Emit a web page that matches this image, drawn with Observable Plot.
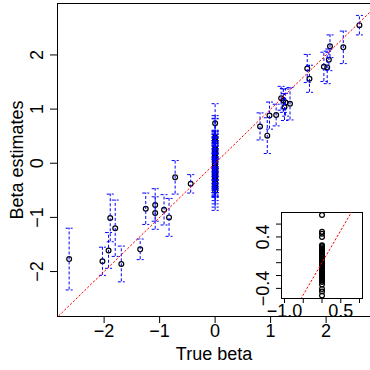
<!DOCTYPE html>
<html><head><meta charset="utf-8">
<script src="https://cdn.jsdelivr.net/npm/d3@7"></script>
<script src="https://cdn.jsdelivr.net/npm/@observablehq/plot@0.6"></script>
<style>
body{margin:0;background:#fff}
#wrap{position:relative;width:370px;height:370px;overflow:hidden}
#wrap svg{position:absolute}
</style>
</head><body><div id="wrap"></div>
<script>
// ---- data ----
const truthNonZero = [-2.63,-2.03,-1.92,-1.89,-1.80,-1.69,-1.35,-1.25,-1.08,-1.08,-0.92,-0.83,-0.72,-0.44,
  0.81,0.94,0.98,1.10,1.19,1.23,1.27,1.25,1.35,1.66,1.70,1.96,2.02,2.05,2.07,2.31,2.60];
const estNonZero = [-1.77,-1.81,-1.61,-1.01,-1.20,-1.86,-1.59,-0.84,-0.77,-0.92,-0.86,-1.00,-0.26,-0.38,
  0.68,0.51,0.88,0.89,1.20,1.16,1.12,1.04,1.10,1.75,1.56,1.78,1.77,1.91,2.16,2.14,2.55];
const seNonZero = [0.57,0.26,0.33,0.44,0.52,0.33,0.19,0.29,0.30,0.30,0.28,0.35,0.31,0.17,
  0.25,0.33,0.25,0.20,0.22,0.22,0.25,0.25,0.30,0.26,0.25,0.27,0.30,0.20,0.21,0.30,0.18];
const estZero = [0.74,0.48,0.45,0.40,0.27,0.26,0.24,0.22,0.21,0.19,0.17,0.16,0.14,0.12,0.11,0.09,0.07,0.06,
  0.04,0.03,0.01,0.00,-0.02,-0.03,-0.05,-0.06,-0.08,-0.10,-0.11,-0.13,-0.14,-0.16,-0.18,-0.19,-0.21,
  -0.23,-0.24,-0.26,-0.28,-0.30,-0.34,-0.41,-0.45,-0.51];
const seZero = [0.36,0.40,0.38,0.42,0.33,0.35,0.34,0.36,0.32,0.35,0.37,0.33,0.34,0.36,0.35,0.33,0.34,0.36,
  0.35,0.34,0.33,0.36,0.35,0.34,0.37,0.33,0.35,0.34,0.36,0.33,0.35,0.34,0.36,0.35,0.33,
  0.34,0.36,0.35,0.34,0.33,0.35,0.34,0.36,0.36];

const xTicks = [-2,-1,0,1,2];
const xTickLabels = ["−2","−1","0","1","2"];
const yTicks = [-2,-1,0,1,2];
const yTickLabels = ["−2","−1","0","1","2"];
const xDomain = [-2.84, 2.80];
const yDomain = [-2.83, 2.95];
const insetXDomain = [-1.08, 1.08];
const insetYDomain = [-0.557, 0.78];
const insetXTicks = [-1,-0.5,0,0.5,1];
const insetXLabels = ["−1.0","","","0.5",""];
const insetYTicks = [-0.4,-0.2,0,0.2,0.4,0.6];
const insetYLabels = ["−0.4","","","","0.4",""];
const refLine = [-4, 4];

// ---- tables ----
const rows = [];
truthNonZero.forEach((t,i)=>rows.push({truth:t, est:estNonZero[i], lo:estNonZero[i]-seNonZero[i], hi:estNonZero[i]+seNonZero[i]}));
const zeroRows = estZero.map((e,i)=>({truth:0, est:e, lo:e-seZero[i], hi:e+seZero[i]}));
const allRows = rows.concat(zeroRows);
const caps = allRows.flatMap(r=>[{x:r.truth,y:r.lo},{x:r.truth,y:r.hi}]);

const capSymbol = {draw(ctx,size){const w=Math.sqrt(size/Math.PI);ctx.moveTo(-w,0);ctx.lineTo(w,0);}};
const font = '"Liberation Sans", Arial, Helvetica, sans-serif';
const lab = (ticks, labels) => d => labels[ticks.indexOf(d)] ?? "";

const main = Plot.plot({
  width: 370, height: 370,
  marginLeft: 57, marginTop: 3, marginBottom: 54, marginRight: 0,
  x: {domain: xDomain}, y: {domain: yDomain},
  style: {fontFamily: font, fontSize: "18px", background: "white", color: "black", overflow: "visible"},
  marks: [
    Plot.ruleY([yDomain[0], yDomain[1]], {stroke: "black"}),
    Plot.ruleX([xDomain[0]], {stroke: "black"}),
    Plot.axisX({ticks: xTicks, tickSize: 7, tickPadding: 1, tickFormat: lab(xTicks, xTickLabels), label: null}),
    Plot.axisY({ticks: yTicks, tickSize: 7, tickPadding: 7.5, tickRotate: -90, tickFormat: lab(yTicks, yTickLabels), label: null}),
    Plot.dot(allRows, {x: "truth", y: "est", r: 2.4, stroke: "black", strokeWidth: 1.2, fill: "none"}),
    Plot.ruleX(allRows, {x: "truth", y1: "lo", y2: "hi", stroke: "blue", strokeWidth: 1, strokeDasharray: "3,2"}),
    Plot.dot(caps, {x: "x", y: "y", symbol: capSymbol, r: 3.5, stroke: "blue", fill: "none", strokeWidth: 1, strokeDasharray: "3,2"}),
    Plot.line(refLine, {x: d=>d, y: d=>d, stroke: "red", strokeWidth: 1, strokeDasharray: "1.5,2.5", clip: true}),
    Plot.text(["Beta estimates"], {text: d=>d, frameAnchor: "left", dx: -40.5, rotate: -90, textAnchor: "middle", lineAnchor: "middle", fontSize: 18, fill: "black"}),
    Plot.text(["True beta"], {text: d=>d, frameAnchor: "bottom", dy: 37.4, textAnchor: "middle", lineAnchor: "middle", fontSize: 18, fill: "black"})
  ]
});

const inset = Plot.plot({
  width: 120, height: 115,
  marginLeft: 31, marginRight: 8, marginTop: 7, marginBottom: 22,
  x: {domain: insetXDomain}, y: {domain: insetYDomain},
  style: {fontFamily: font, fontSize: "18px", background: "transparent", color: "black", overflow: "visible"},
  marks: [
    Plot.frame({stroke: "black"}),
    Plot.axisX({ticks: insetXTicks, tickSize: 5, tickPadding: 0.5, tickFormat: lab(insetXTicks, insetXLabels), label: null}),
    Plot.axisY({ticks: insetYTicks, tickSize: 5, tickPadding: 7.5, tickRotate: -90, tickFormat: lab(insetYTicks, insetYLabels), label: null}),
    Plot.dot(zeroRows, {x: "truth", y: "est", r: 2.4, stroke: "black", strokeWidth: 1.2, fill: "none"}),
    Plot.line(refLine, {x: d=>d, y: d=>d, stroke: "red", strokeWidth: 1, strokeDasharray: "1.5,2.5", clip: true})
  ]
});

const wrap = document.getElementById("wrap");
main.style.left = "0px"; main.style.top = "0px";
inset.style.left = "250px"; inset.style.top = "205px";
wrap.appendChild(main);
wrap.appendChild(inset);
</script></body></html>
